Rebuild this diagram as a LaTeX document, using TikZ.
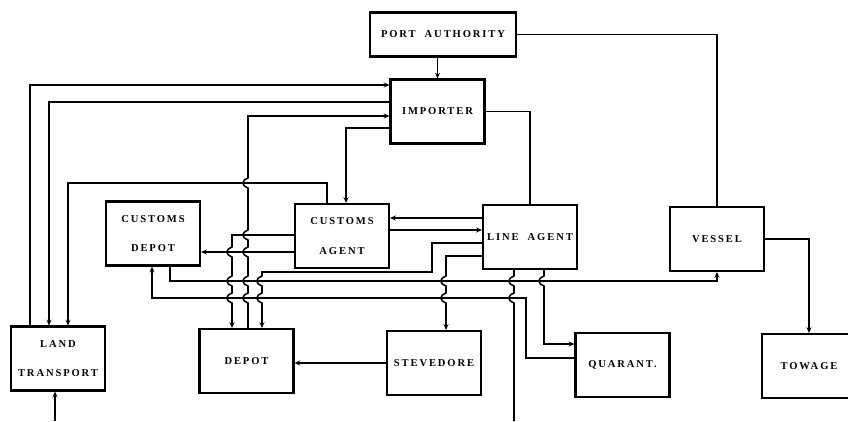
\documentclass[tikz,border=0pt]{standalone}
\usepackage{fontspec}
\newfontfamily\unitfont[LetterSpace=18]{Liberation Serif}
\usetikzlibrary{arrows.meta}

\begin{document}
\begin{tikzpicture}[x=0.025cm,y=-0.025cm,>={Stealth[length=4pt,width=3.5pt]}]
\tikzstyle{every node}=[font=\unitfont\bfseries\fontsize{7.5}{9}\selectfont]
\tikzstyle{unit}=[draw, line width=1.5pt, minimum width=2.35cm, minimum height=1.6cm, align=center, inner sep=1pt]
\tikzstyle{link}=[line width=1.1pt]
\tikzstyle{hop}=[to path={.. controls +(-7,3) and +(-7,-3) .. (\tikztotarget)}]
\useasboundingbox (0,0) rectangle (848,421);

\node[unit, minimum width=3.65cm, minimum height=1.1cm] (pa) at (443,34.5) {PORT\ \ AUTHORITY};
\node[unit] (imp) at (437.5,111.5) {IMPORTER};
\node[unit] (cd) at (153,233.5) {CUSTOMS\\[12pt]DEPOT};
\node[unit] (ca) at (342,236) {CUSTOMS\\[12pt]AGENT};
\node[unit] (la) at (530,237) {LINE\ \ AGENT};
\node[unit] (ves) at (717,239) {VESSEL};
\node[unit] (lt) at (58,358.5) {LAND\\[12pt]TRANSPORT};
\node[unit] (dep) at (246.5,361) {DEPOT};
\node[unit] (stv) at (434,363) {STEVEDORE};
\node[unit] (qua) at (622.5,365) {QUARANT.};
\node[unit] (tow) at (809,366) {TOWAGE};

% port authority and importer
\draw[link,->] (pa.south -| imp.north) -- (imp.north);
\draw[link] (pa.east) -| (ves.north);
\draw[link] (imp.east) -| (la.north);
\draw[link,<-] (imp.west |- 0,85) -- (30,85) -- (30,0 |- lt.north);
\draw[link,->] (imp.west |- 0,102) -- (49,102) -- (49,0 |- lt.north);
\draw[link,<-] (imp.west |- 0,116) -- (248,116) -- (248,178) to[hop] (248,188) -- (248,230) to[hop] (248,240) -- (248,247) to[hop] (248,257) -- (248,276) to[hop] (248,286) -- (248,293) to[hop] (248,303) -- (248,0 |- dep.north);
\draw[link,->] (imp.west |- 0,128) -- (346,128) -- (346,0 |- ca.north);

% customs agent
\draw[link,->] (327,0 |- ca.north) -- (327,183) -- (68,183) -- (68,0 |- lt.north);
\draw[link,<-] (ca.east |- 0,218) -- (la.west |- 0,218);
\draw[link,->] (ca.east |- 0,230) -- (la.west |- 0,230);
\draw[link,->] (ca.west |- 0,235) -- (232,235) -- (232,247) to[hop] (232,257) -- (232,276) to[hop] (232,286) -- (232,293) to[hop] (232,303) -- (232,0 |- dep.north);
\draw[link,->] (ca.west |- 0,252) -- (cd.east |- 0,252);

% line agent
\draw[link,->] (la.west |- 0,243) -- (432,243) -- (432,272) -- (262,272) -- (262,276) to[hop] (262,286) -- (262,293) to[hop] (262,303) -- (262,0 |- dep.north);
\draw[link,->] (la.west |- 0,256) -- (446,256) -- (446,276) to[hop] (446,286) -- (446,293) to[hop] (446,303) -- (446,0 |- stv.north);
\draw[link,->] (544,0 |- la.south) -- (544,276) to[hop] (544,286) -- (544,344) -- (qua.west |- 0,344);
\coordinate (exit) at (514,421);
\draw[link] (514,0 |- la.south) -- (514,276) to[hop] (514,286) -- (514,293) to[hop] (514,303) -- (exit);

% customs depot
\draw[link,->] (cd.south -| 170,0) -- (170,281) -| (ves.south);
\draw[link,->] (qua.west |- 0,358) -- (526,358) -- (526,298) -- (152,298) -- (152,0 |- cd.south);

% the rest
\coordinate (entry) at (55,421);
\draw[link,->] (entry) -- (entry |- lt.south);
\draw[link,->] (stv.west) -- (stv.west -| dep.east);
\draw[link,->] (ves.east) -| (tow.north);
\end{tikzpicture}
\end{document}
